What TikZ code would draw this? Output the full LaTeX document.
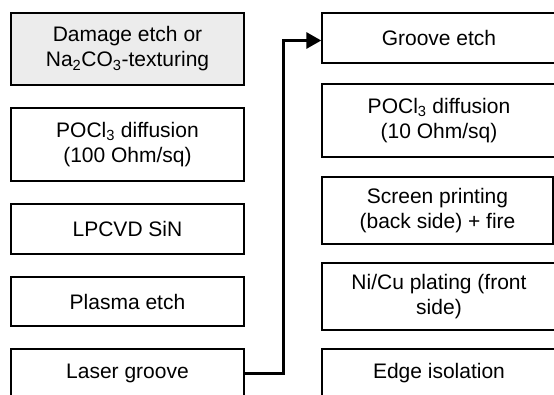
\documentclass[tikz,border=0pt]{standalone}
\usepackage{fontspec}
\setmainfont{Liberation Sans}
\usetikzlibrary{arrows.meta}
\begin{document}
\begin{tikzpicture}[x=1pt,y=-1pt,
  stepbox/.style={draw, line width=1.4pt, inner sep=0pt, align=center,
    font=\fontsize{21}{25}\selectfont},
  leftbox/.style={stepbox, minimum width=233pt},
  rightbox/.style={stepbox, minimum width=234pt},
  flow/.style={line width=3pt, line join=miter,
    -{Triangle[length=15pt,width=16pt]}}]
\useasboundingbox (0,0) rectangle (554,394);
\begin{scope}
\clip (0,0) rectangle (554,394);
% left column
\node[leftbox, fill=gray!15, minimum height=72pt] (damage) at (127.5,49)
  {Damage etch or\\Na\textsubscript{2}CO\textsubscript{3}-texturing};
\node[leftbox, minimum height=73pt] (diff1) at (127.5,144.5)
  {POCl\textsubscript{3} diffusion\\(100 Ohm/sq)};
\node[leftbox, minimum height=50pt] (sin) at (127.5,229) {LPCVD SiN};
\node[leftbox, minimum height=49pt] (plasma) at (127.5,301.5) {Plasma etch};
\node[leftbox, minimum height=48pt] (laser) at (127.5,373) {Laser groove};
% right column
\node[rightbox, minimum height=50pt] (groove) at (439,38) {Groove etch};
\node[rightbox, minimum height=73pt] (diff2) at (439,120.5)
  {POCl\textsubscript{3} diffusion\\(10 Ohm/sq)};
\node[stepbox, minimum width=231pt, minimum height=67pt] (screen) at (437.5,210.5)
  {Screen printing\\(back side) + fire};
\node[rightbox, minimum height=67pt] (plating) at (439,296.5)
  {Ni/Cu plating (front\\side)};
\node[rightbox, minimum height=48pt] (edge) at (439,373) {Edge isolation};
% connector between the columns
\draw[flow] (laser.east) -- (283.5,373) |- ([yshift=-2.5pt]groove.west);
\end{scope}
\end{tikzpicture}
\end{document}
